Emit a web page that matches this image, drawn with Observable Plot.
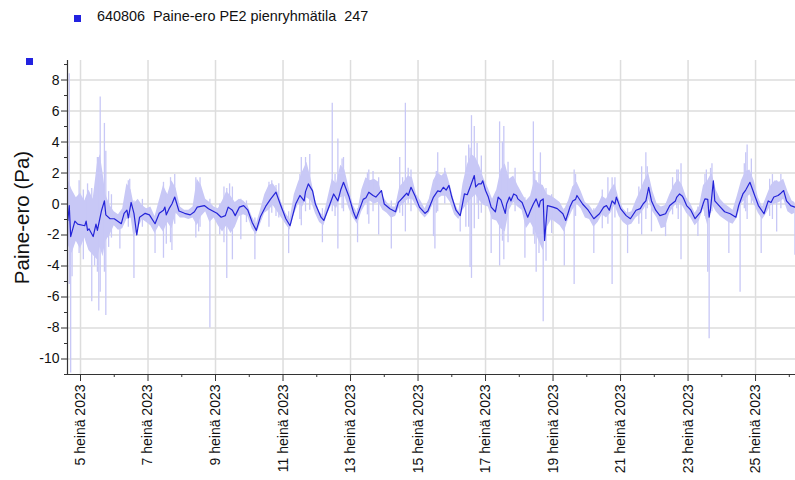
<!DOCTYPE html>
<html><head><meta charset="utf-8">
<script src="https://cdn.jsdelivr.net/npm/d3@7"></script>
<script src="https://cdn.jsdelivr.net/npm/@observablehq/plot@0.6"></script>
<style>
body{margin:0;background:#fff;font-family:"Liberation Sans",Arial,sans-serif;}
#wrap{position:relative;width:795px;height:480px;overflow:hidden;}
#legend{position:absolute;left:0;top:0;width:795px;height:40px;font-size:14.4px;color:#111;}
.sq{position:absolute;width:7px;height:7px;background:#2222e0;}
#ltext{position:absolute;left:97px;top:8px;white-space:pre;}
#chart{position:absolute;left:0;top:0;}
</style></head><body>
<div id="wrap"><div id="chart"></div>
<div id="legend"><div class="sq" style="left:74px;top:15px"></div><div id="ltext">640806  Paine-ero PE2 pienryhmätila  247</div><div class="sq" style="left:26px;top:58px"></div></div>
</div>
<script>
// hours relative to 5 July 2023 00:00
const lineHours = [-9,-8,-7,-4,-2,3,4,5,6,9,11,12,15,17,18,21,24,29,31,33,34,36,38,40,42,46,49,53,56,59,60,61,63,65,67,70,74,78,81,83,88,91,93,97,100,103,105,108,110,113,116,119,122,125,128,132,135,139,142,146,149,153,156,159,160,162,165,167,171,173,177,180,183,185,187,191,194,196,199,201,203,205,208,210,212,214,216,220,224,226,228,230,232,233,235,238,241,245,247,251,254,256,258,260,262,264,267,270,273,275,277,280,281,283,285,286,288,290,292,295,297,299,302,303,305,306,308,310,311,314,318,320,322,324,326,327,329,330,332,336,339,343,345,347,348,350,352,353,357,361,365,369,372,374,376,378,380,381,384,388,391,395,398,400,402,404,406,409,412,416,419,423,424,426,428,429,431,434,437,441,443,444,446,447,448,450,451,455,458,462,466,468,471,473,476,479,482,486,489,491,493,496,498,500,502,505,508];
const lineValues = [-1.06,-0.1,-2.1,-1.1,-1.3,-1.4,-1.1,-1.7,-1.6,-2.1,-1.3,-1.7,-0.4,0.2,-0.7,-0.95,-0.95,-1.27,-0.6,-0.4,-0.9,0.1,-0.6,-2.0,-0.85,-0.6,-0.7,-1.27,-0.6,-0.4,-0.2,-0.7,-0.3,0.0,0.45,-0.45,-0.6,-0.7,-0.5,-0.2,-0.1,-0.3,-0.4,-0.6,-0.85,-0.75,-0.2,-0.4,-0.75,-0.2,-0.1,-0.4,-1.17,-1.7,-0.8,-0.1,0.3,0.76,0,-0.95,-1.4,0,0.55,0.2,0.8,1.3,0.85,0,-0.85,-1.06,-0.1,0.65,0.2,0.9,1.4,0.45,-0.5,-0.95,-0.2,0.3,0.4,0.76,0.55,0.45,0.65,0.87,0,-0.3,-0.5,0.1,0.3,0.5,0.7,0.55,1.08,0.5,-0.2,-0.6,-0.45,0.45,0.85,0.8,1.08,0.9,1.2,0.45,-0.4,-0.75,0.65,0.6,1.08,1.84,1.1,1.3,1.3,1.5,0.87,0.45,-0.2,-0.5,0.45,0.25,-0.6,0.0,0.45,0.2,0.65,0.55,0.33,0.1,-0.85,-0.4,0.0,0.33,-0.2,0.2,0.33,-2.35,-0.1,-0.2,-0.3,-0.63,-1.06,-0.5,-0.2,0.2,0.3,0.55,0,-0.4,-0.95,-0.63,-0.2,-0.1,-0.4,0.2,0.0,0.45,-0.3,-0.75,-0.95,-0.4,-0.3,0.0,0.2,1.08,0.2,-0.4,-0.75,-0.63,-0.1,0.2,0.45,0.65,0.5,0.33,-0.1,-0.4,-0.95,-0.5,0.1,0.33,0.3,-0.85,-0.3,1.5,0.2,-0.2,-0.5,-0.63,-0.85,-0.1,0.65,0.9,1.4,0.65,-0.1,-0.63,0.2,0.1,0.45,0.55,0.7,0.87,0.2,-0.1,-0.2];

const bandHours = [-9,-6,-3,0,3,6,9,12,14,16,18,21,24,27,30,33,36,38,41,44,47,50,53,56,59,62,65,68,71,74,77,80,83,86,89,92,95,98,101,104,107,110,113,116,119,122,125,128,131,134,137,140,143,146,149,152,155,158,161,164,167,170,173,176,179,182,185,188,191,194,197,200,203,206,209,212,215,218,221,224,227,230,233,236,239,242,245,248,251,254,257,260,263,266,269,272,275,278,281,284,287,290,293,296,299,302,305,308,311,314,317,320,323,326,329,332,335,338,341,344,347,350,353,356,359,362,365,368,371,374,377,380,383,386,389,392,395,398,401,404,407,410,413,416,419,422,425,428,431,434,437,440,443,446,449,452,455,458,461,464,467,470,473,476,479,482,485,488,491,494,497,500,503,506,508];
const bandLo = [-2.6,-3.2,-2.4,-2.9,-2.2,-3.0,-3.3,-3.6,-2.8,-3.4,-2.4,-2.0,-1.4,-1.7,-1.6,-1.0,-0.9,-2.2,-1.6,-1.0,-1.2,-1.4,-1.9,-1.4,-1.8,-1.2,-1.6,-0.6,-0.9,-0.9,-1.0,-0.9,-1.4,-0.8,-0.5,-1.2,-0.9,-1.4,-1.8,-1.4,-1.9,-1.5,-0.8,-0.7,-0.8,-1.6,-2.0,-1.3,-0.6,-0.4,-0.1,-0.5,-0.9,-1.3,-1.7,-0.7,0.0,-0.2,0.4,0.2,-0.6,-1.2,-1.4,-0.6,0.0,-0.3,0.4,0.5,-0.3,-0.9,-1.3,-0.5,0.0,0.2,0.0,0.1,-0.4,-0.6,-0.9,-0.8,-0.2,0.0,0.3,0.3,-0.2,-0.6,-0.9,-0.6,0.0,0.3,0.5,0.5,0.1,-0.7,-1.0,-0.4,0.0,0.3,0.6,0.2,-0.1,-0.2,-1.0,-1.1,-1.6,-1.8,-0.4,0.1,-0.2,-0.4,-1.6,-1.2,-1.7,-2.4,-3.0,-1.5,-1.0,-1.2,-1.4,-1.8,-1.0,-0.4,0.0,-0.3,-0.9,-1.0,-1.5,-1.2,-0.7,-0.9,-0.6,-0.1,-0.8,-1.2,-1.4,-1.3,-0.9,-0.7,-0.3,0.3,-0.5,-0.9,-1.6,-1.5,-0.6,-0.2,0.1,-0.1,-0.6,-0.9,-1.4,-1.1,-0.3,-1.4,0.0,-0.5,-0.8,-1.0,-1.2,-1.3,-0.9,0.0,0.3,0.6,0.0,-0.6,-1.0,-0.6,-0.1,0.0,0.1,0.3,-0.5,-0.7,-0.6];
const bandHi = [1.6,0.9,0.4,0.7,0.2,0.9,0.3,2.6,3.2,2.0,0.6,-0.1,-0.5,-0.7,-0.3,1.3,0.9,0.0,0.3,-0.1,-0.3,-0.2,-0.8,0.2,1.2,0.6,1.5,1.0,-0.2,-0.4,-0.4,-0.2,1.6,1.2,0.3,0.1,-0.2,-0.3,0.2,0.8,0.5,0.1,0.3,0.2,-0.1,-0.8,-1.3,-0.4,0.6,1.2,1.3,0.9,0.1,-0.6,-1.0,0.6,1.4,2.1,2.7,1.6,0.3,-0.5,-0.8,0.4,1.6,1.3,2.5,2.2,1.0,-0.1,-0.6,0.9,1.7,1.5,1.6,1.4,0.5,0.1,-0.2,-0.2,1.1,1.4,1.8,1.7,0.6,0.2,-0.3,0.3,1.5,2.0,1.8,2.1,1.2,0.1,-0.5,1.3,2.5,3.2,3.0,2.4,1.6,1.0,0.3,0.9,2.2,2.6,1.6,1.8,1.2,0.7,0.2,0.5,1.6,1.3,1.2,0.6,0.5,0.3,0.1,-0.4,0.2,1.1,1.4,0.8,0.1,-0.1,-0.5,-0.1,0.5,0.3,0.9,1.3,0.3,-0.3,-0.6,-0.5,0.2,0.8,1.5,2.0,0.8,0.0,-0.2,-0.1,0.6,1.2,1.6,1.2,0.4,0.0,-0.6,-0.2,1.2,1.5,2.0,0.9,0.3,0.0,-0.2,-0.4,0.5,1.5,2.1,2.2,1.5,0.4,-0.2,0.5,1.2,1.5,1.4,1.6,0.8,0.2,0.1];

const spikeHours = [-9,-8,-7,-6,-1,2,5,8,10,12,13,14,17,18,20,22,28,34,35,38,44,53,59,61,64,65,67,82,84,85,92,99,102,104,106,108,114,118,124,134,136,139,141,148,156,157,160,163,172,179,181,183,186,187,197,204,205,208,212,221,227,229,231,233,235,251,252,253,254,259,270,274,276,277,278,280,282,283,285,292,298,300,301,304,309,316,322,323,324,326,327,329,331,335,344,351,352,365,371,375,378,380,389,397,399,402,403,406,416,421,424,425,427,439,444,445,446,447,448,449,461,469,472,473,474,477,484,490,492,495,498,508];
const spikeLo = [-1.0,-5.2,-10.9,-4.7,-3.2,-3.6,-2.6,-6.3,-4.0,-4.4,-6.9,-5.7,-4.4,-7.2,-2.8,-2.2,-2.9,-1.5,-0.8,-4.8,-1.5,-3.2,-3.5,-2.6,-2.5,-3.0,-1.3,-2.2,-1.8,-1.5,-8.0,-2.0,-2.5,-4.8,-1.6,-3.6,-2.3,-1.2,-3.6,-1.5,-0.6,-0.8,-0.9,-3.2,-1.0,-1.4,-0.5,-0.4,-2.5,-0.5,-0.8,-2.9,-0.3,-0.5,-2.5,-0.7,-1.3,-0.5,-2.0,-2.9,-0.6,-0.8,-1.8,0.0,-0.5,-2.1,-2.9,-0.6,-0.5,0.0,-1.8,-1.5,-1.5,-4.1,-4.8,-1.6,0.0,-1.0,-0.6,-3.2,-4.0,-2.4,-3.6,-2.5,-0.5,-3.5,-2.0,-2.6,-4.4,-3.2,-1.5,-7.6,-3.7,-1.9,-4.0,-5.2,-0.8,-3.2,-1.6,-1.3,-5.2,-0.9,-3.2,-1.3,-2.0,-1.0,-0.3,-1.8,-2.1,-0.7,-0.3,-1.0,-3.6,-2.1,-0.8,-1.0,-4.4,-8.7,-0.6,-0.5,-3.2,-5.7,-0.3,-0.5,-1.0,0.0,-3.2,-0.8,-1.0,-1.8,-0.3,-3.3];
const spikeHi = [3.7,8.4,-2.0,-2.2,1.5,0.9,1.3,1.0,0.5,3.0,3.0,6.9,5.2,3.4,0.8,0.6,-0.6,1.5,1.6,0.2,0.3,-0.8,1.4,0.7,1.7,1.2,1.9,1.7,1.3,1.7,0.3,0.0,1.1,1.0,1.3,1.1,0.3,0.2,-0.9,1.4,1.5,1.2,1.3,-0.5,1.9,3.0,3.0,3.2,-0.3,6.5,1.9,4.2,2.9,3.0,-0.3,2.0,2.2,2.1,1.7,0.2,3.0,1.7,6.5,2.3,2.2,1.2,1.5,2.1,3.3,2.3,0.0,3.1,3.8,3.6,5.7,5.0,3.9,2.3,3.1,0.3,5.3,4.0,5.0,2.7,2.3,0.4,5.3,2.1,1.5,2.0,3.3,0.5,1.0,0.6,-0.3,2.2,1.9,-0.3,0.9,1.7,1.7,1.7,-0.3,1.1,2.4,3.3,2.4,0.3,0.0,1.7,2.2,2.2,2.6,-0.2,1.9,2.2,1.0,0.5,2.3,2.6,-0.3,0.3,2.6,3.3,3.8,2.9,-0.3,1.6,1.9,1.5,1.9,0.0];

const xTickDays = [5,7,9,11,13,15,17,19,21,23,25];
const xMinorDays = [4,6,8,10,12,14,16,18,20,22,24,26];
const yTicks = [-10,-8,-6,-4,-2,0,2,4,6,8];
const yMinor = [-11,-9,-7,-5,-3,-1,1,3,5,7,9];
const monthLabel = "heinä";

const t0 = Date.UTC(2023, 6, 5);
const toDate = h => new Date(t0 + h * 3600e3);
const dayDate = d => new Date(Date.UTC(2023, 6, d));
const line = lineHours.map((h, i) => ({t: toDate(h), v: lineValues[i]}));
const band = bandHours.map((h, i) => ({t: toDate(h), lo: bandLo[i], hi: bandHi[i]}));
const spikes = spikeHours.map((h, i) => ({t: toDate(h), lo: spikeLo[i], hi: spikeHi[i]}));
const xDomain = [toDate(-9.25), toDate(508.4)];
const yDomain = [-11, 9.26];
const majorX = xTickDays.map(dayDate);
const minorX = xMinorDays.map(dayDate).filter(d => d >= xDomain[0] && d <= xDomain[1]);
const bandColor = "#c8c8f6";
const lineColor = "#2424d8";

const chart = Plot.plot({
  width: 795, height: 480,
  marginLeft: 67, marginRight: 0, marginTop: 60, marginBottom: 106,
  style: {fontFamily: "'Liberation Sans', Arial, sans-serif", fontSize: "14px", color: "#111", background: "white"},
  x: {type: "utc", domain: xDomain},
  y: {domain: yDomain},
  marks: [
    Plot.gridX(majorX, {stroke: "#dddddd", strokeOpacity: 1, strokeWidth: 1.5}),
    Plot.gridY(yTicks, {stroke: "#dddddd", strokeOpacity: 1, strokeWidth: 1.5}),
    Plot.areaY(band, {x: "t", y1: "lo", y2: "hi", fill: bandColor, fillOpacity: 1}),
    Plot.ruleX(spikes, {x: "t", y1: "lo", y2: "hi", stroke: bandColor, strokeWidth: 1.3}),
    Plot.line(line, {x: "t", y: "v", stroke: lineColor, strokeWidth: 1.2}),
    Plot.ruleX([xDomain[0]], {stroke: "#333", strokeWidth: 1.2}),
    Plot.ruleY([yDomain[0]], {stroke: "#333", strokeWidth: 1.2}),
    Plot.axisY({ticks: yTicks, tickSize: 6, tickPadding: 2, tickFormat: d => String(d), label: null, stroke: "#333"}),
    Plot.axisY({ticks: yMinor, tickSize: 3, tickFormat: () => "", label: null, stroke: "#333"}),
    Plot.axisX({ticks: majorX, tickSize: 7, tickPadding: 3, tickRotate: -90, tickFormat: d => `${d.getUTCDate()} ${monthLabel} 2023`, label: null, stroke: "#333"}),
    Plot.axisX({ticks: minorX, tickSize: 3, tickFormat: () => "", label: null, stroke: "#333"}),
    Plot.text(["Paine-ero (Pa)"], {frameAnchor: "left", textAnchor: "middle", rotate: -90, dx: -45, fontSize: 20.5, fill: "#111"})
  ]
});
document.getElementById("chart").appendChild(chart);
</script>
</body></html>
